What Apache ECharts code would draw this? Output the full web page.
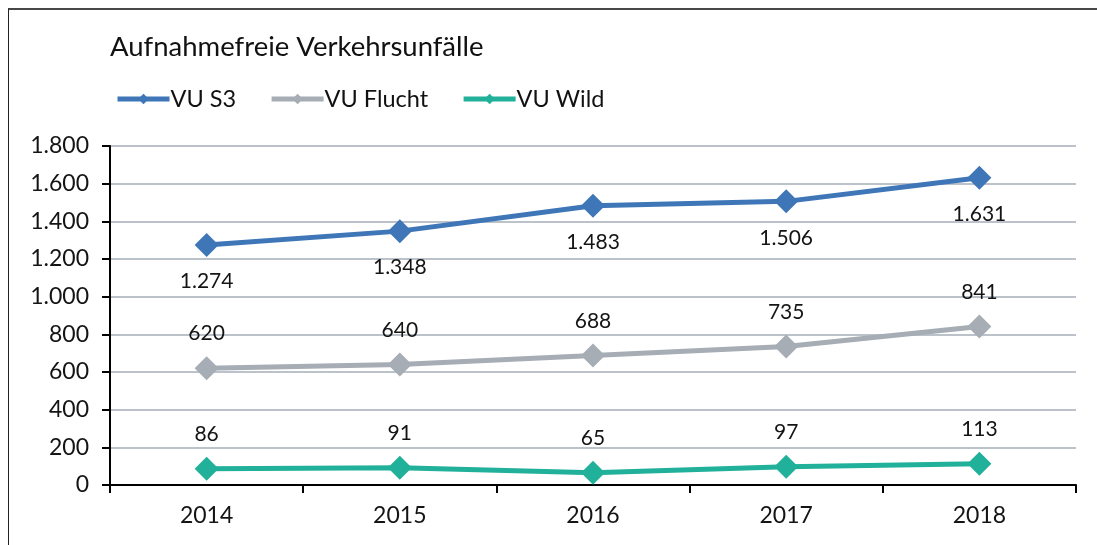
<!DOCTYPE html>
<html>
<head>
<meta charset="utf-8">
<script src="https://cdn.jsdelivr.net/npm/echarts@6/dist/echarts.min.js"></script>
<style>
  html, body { margin: 0; padding: 0; background: #fff; }
  #frame {
    position: absolute; left: 8px; top: 8px; width: 1200px; height: 600px;
    border-top: 2px solid #474747; border-left: 1.5px solid #222;
  }
  #chart { position: absolute; left: 0; top: 0; width: 1097px; height: 545px; }
</style>
</head>
<body>
<div id="frame"></div>
<div id="chart"></div>
<script>
// Aufnahmefreie Verkehrsunfälle — drei Linien
const years = ['2014', '2015', '2016', '2017', '2018']
const vuS3 = [1274, 1348, 1483, 1506, 1631]
const vuFlucht = [620, 640, 688, 735, 841]
const vuWild = [86, 91, 65, 97, 113]

const FONT = 'Lato, "Open Sans", sans-serif'
const fmt = (v) => String(v).replace(/\B(?=(\d{3})+(?!\d))/g, '.')

const chart = echarts.init(document.getElementById('chart'))

const mkSeries = (name, data, color, pos) => ({
  name,
  type: 'line',
  data,
  symbol: 'diamond',
  symbolSize: 24,
  lineStyle: { width: 5, color },
  itemStyle: { color },
  label: {
    show: true,
    position: pos,
    distance: pos === 'bottom' ? 14 : 12,
    color: '#141414',
    fontSize: 21,
    fontFamily: FONT,
    formatter: (p) => fmt(p.value)
  },
  emphasis: { disabled: true }
})

chart.setOption({
  animation: false,
  backgroundColor: 'transparent',
  title: {
    text: 'Aufnahmefreie Verkehrsunfälle',
    left: 105,
    top: 28,
    textStyle: { color: '#111', fontSize: 27.5, fontWeight: 'normal', fontFamily: FONT }
  },
  legend: {
    left: 110,
    top: 82,
    itemWidth: 52,
    itemHeight: 13,
    itemGap: 33,
    lineStyle: { width: 5 },
    textStyle: { color: '#111', fontSize: 23.5, fontFamily: FONT, padding: [0, 0, 0, -4] },
    data: ['VU S3', 'VU Flucht', 'VU Wild']
  },
  grid: { left: 110, right: 21, top: 146, bottom: 60, containLabel: false },
  xAxis: {
    type: 'category',
    data: years,
    boundaryGap: true,
    axisLine: { lineStyle: { color: '#000', width: 2 } },
    axisTick: { show: true, length: 8, lineStyle: { color: '#000', width: 2 } },
    axisLabel: { color: '#141414', fontSize: 23, fontFamily: FONT, margin: 19 },
    splitLine: { show: false }
  },
  yAxis: {
    type: 'value',
    min: 0,
    max: 1800,
    interval: 200,
    axisLine: { show: true, lineStyle: { color: '#000', width: 2 } },
    axisTick: { show: true, length: 8, lineStyle: { color: '#000', width: 2 } },
    axisLabel: { color: '#141414', fontSize: 23, fontFamily: FONT, margin: 21, formatter: fmt },
    splitLine: { show: true, lineStyle: { color: '#bcc2c9', width: 2 } }
  },
  series: [
    mkSeries('VU S3', vuS3, '#3e76b8', 'bottom'),
    mkSeries('VU Flucht', vuFlucht, '#a6adb5', 'top'),
    mkSeries('VU Wild', vuWild, '#21b09a', 'top')
  ]
})
</script>
</body>
</html>
